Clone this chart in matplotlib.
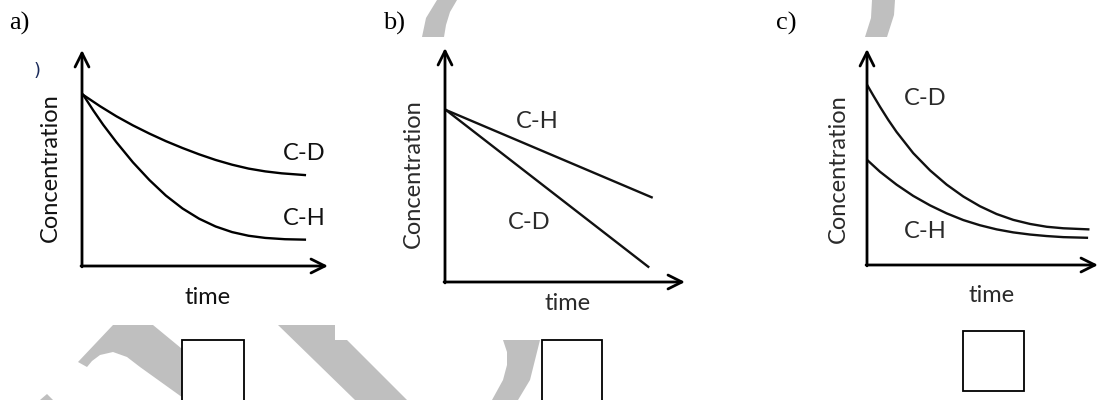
import matplotlib
matplotlib.use('Agg')
import matplotlib.pyplot as plt
from matplotlib.patches import Polygon, Rectangle

# ---- data (time / concentration in arbitrary 0-10 units) ----
# panel a: exponential-like decay, both start at the same point
a_time = [0.05, 0.73, 1.40, 2.07, 2.74, 3.41, 4.09, 4.76, 5.43, 6.10, 6.77, 7.45, 8.12, 9.06]
a_cd = [7.92, 7.40, 6.93, 6.51, 6.13, 5.78, 5.46, 5.17, 4.91, 4.69, 4.51, 4.38, 4.29, 4.21]
a_ch_time = [0.05, 0.46, 0.86, 1.40, 2.07, 2.74, 3.41, 4.09, 4.76, 5.43, 6.10, 6.77, 7.45, 8.25, 9.06]
a_ch = [7.92, 7.20, 6.54, 5.73, 4.80, 3.98, 3.26, 2.66, 2.19, 1.83, 1.57, 1.40, 1.30, 1.24, 1.22]

# panel b: straight lines
b_time_ch = [0.04, 8.61]
b_ch = [7.35, 3.62]
b_time_cd = [0.04, 8.47]
b_cd = [7.35, 0.65]

# panel c: decays from different starting points
c_time = [0.01, 0.27, 0.56, 0.92, 1.28, 2.00, 2.73, 3.45, 4.17, 4.89, 5.61, 6.33, 7.06, 7.78, 8.50, 9.58]
c_cd = [8.33, 7.85, 7.33, 6.72, 6.16, 5.18, 4.38, 3.72, 3.17, 2.72, 2.36, 2.09, 1.90, 1.77, 1.70, 1.65]
c_ch_time = [0.01, 0.56, 1.28, 2.00, 2.73, 3.45, 4.17, 4.89, 5.61, 6.33, 7.06, 7.78, 8.50, 9.52]
c_ch = [4.86, 4.32, 3.72, 3.20, 2.76, 2.39, 2.08, 1.84, 1.65, 1.51, 1.41, 1.34, 1.29, 1.26]

panel_letters = ['a)', 'b)', 'c)']
y_label = 'Concentration'
x_label = 'time'

# grey watermark pieces (pixel space of the page)
wm_arch = [(78, 362), (113, 325), (153, 325), (244, 400), (186, 400), (140, 367),
           (127, 357), (113, 352), (100, 355), (92, 361), (87, 367)]
wm_tri = [(40, 400), (47, 394), (53, 400)]
wm_band = [(278, 325), (335, 325), (335, 340), (347, 340), (407, 400), (355, 400)]
wm_moon_low = [(503, 340), (507, 352), (507, 365), (503, 380), (492, 400),
               (518, 400), (530, 380), (535, 360), (540, 340)]
wm_moon_top1 = [(437, 0), (457, 0), (450, 12), (446, 25), (444, 37), (422, 37), (426, 18)]
wm_moon_top2 = [(872, 0), (895, 0), (894, 15), (887, 37), (865, 37), (871, 18)]

W, H = 1099, 400
fig = plt.figure(figsize=(W / 100, H / 100), dpi=100)
fig.patch.set_facecolor('white')

bg = fig.add_axes([0, 0, 1, 1])
bg.set_xlim(0, W)
bg.set_ylim(H, 0)
bg.axis('off')

for shape in [wm_arch, wm_tri, wm_band, wm_moon_low, wm_moon_top1, wm_moon_top2]:
    bg.add_patch(Polygon(shape, closed=True, facecolor='#bfbfbf', edgecolor='none', zorder=1))

# answer boxes
for (x0, y0, x1, y1) in [(182, 340, 244, 403), (542, 340, 602, 403), (963, 331, 1024, 391)]:
    bg.add_patch(Rectangle((x0, y0), x1 - x0, y1 - y0, facecolor='white',
                           edgecolor='black', lw=1.3, zorder=3))

# panel letters (serif, like the document text)
for lx, txt in zip([9, 383, 776], panel_letters):
    bg.text(lx, 30, txt, fontsize=19, family='Liberation Serif', color='black', ha='left', va='baseline')

bg.text(37, 71, ')', fontsize=13, color='#1a2a5a', ha='center', va='center')

sans = ['Lato', 'DejaVu Sans']
fs = 17
panels = [
    # (left, top, right, bottom) in px, label positions, text colour
    dict(box=(82, 50, 328, 266), ylab=(50, 168), xlab=(208, 298), col='#111111'),
    dict(box=(445, 48, 685, 282), ylab=(413, 174), xlab=(568, 303), col='#2a2a2a'),
    dict(box=(867, 49, 1098, 265), ylab=(838, 169), xlab=(992, 295), col='#2a2a2a'),
]

axes = []
for p in panels:
    l, t, r, b = p['box']
    ax = fig.add_axes([l / W, 1 - b / H, (r - l) / W, (b - t) / H])
    ax.set_xlim(0, 10)
    ax.set_ylim(0, 10)
    ax.axis('off')
    ax.patch.set_alpha(0)
    arrow = dict(arrowstyle='->,head_length=1.0,head_width=0.5', lw=2.0, color='black',
                 shrinkA=0, shrinkB=0, mutation_scale=10)
    ax.annotate('', xy=(0, 1), xytext=(0, -0.004), xycoords='axes fraction', arrowprops=arrow)
    ax.annotate('', xy=(1, 0), xytext=(-0.004, 0), xycoords='axes fraction', arrowprops=arrow)
    bg.text(p['ylab'][0], p['ylab'][1], y_label, rotation=90, fontsize=fs, family=sans,
            color=p['col'], ha='center', va='center')
    bg.text(p['xlab'][0], p['xlab'][1], x_label, fontsize=fs, family=sans,
            color=p['col'], ha='center', va='center')
    axes.append(ax)

lw = 1.7
ax_a, ax_b, ax_c = axes
ax_a.plot(a_time, a_cd, color='black', lw=lw)
ax_a.plot(a_ch_time, a_ch, color='black', lw=lw)
ax_a.text(9.02, 5.23, 'C-D', fontsize=fs, family=sans, color='#111111', ha='center', va='center')
ax_a.text(9.02, 2.22, 'C-H', fontsize=fs, family=sans, color='#111111', ha='center', va='center')

ax_b.plot(b_time_ch, b_ch, color='#111111', lw=lw)
ax_b.plot(b_time_cd, b_cd, color='#111111', lw=lw)
ax_b.text(3.83, 6.84, 'C-H', fontsize=fs, family=sans, color='#2a2a2a', ha='center', va='center')
ax_b.text(3.50, 2.56, 'C-D', fontsize=fs, family=sans, color='#2a2a2a', ha='center', va='center')

ax_c.plot(c_time, c_cd, color='#111111', lw=lw)
ax_c.plot(c_ch_time, c_ch, color='#111111', lw=lw)
ax_c.text(2.51, 7.73, 'C-D', fontsize=fs, family=sans, color='#2a2a2a', ha='center', va='center')
ax_c.text(2.51, 1.53, 'C-H', fontsize=fs, family=sans, color='#2a2a2a', ha='center', va='center')

fig.savefig('out.png', dpi=100, facecolor='white')
